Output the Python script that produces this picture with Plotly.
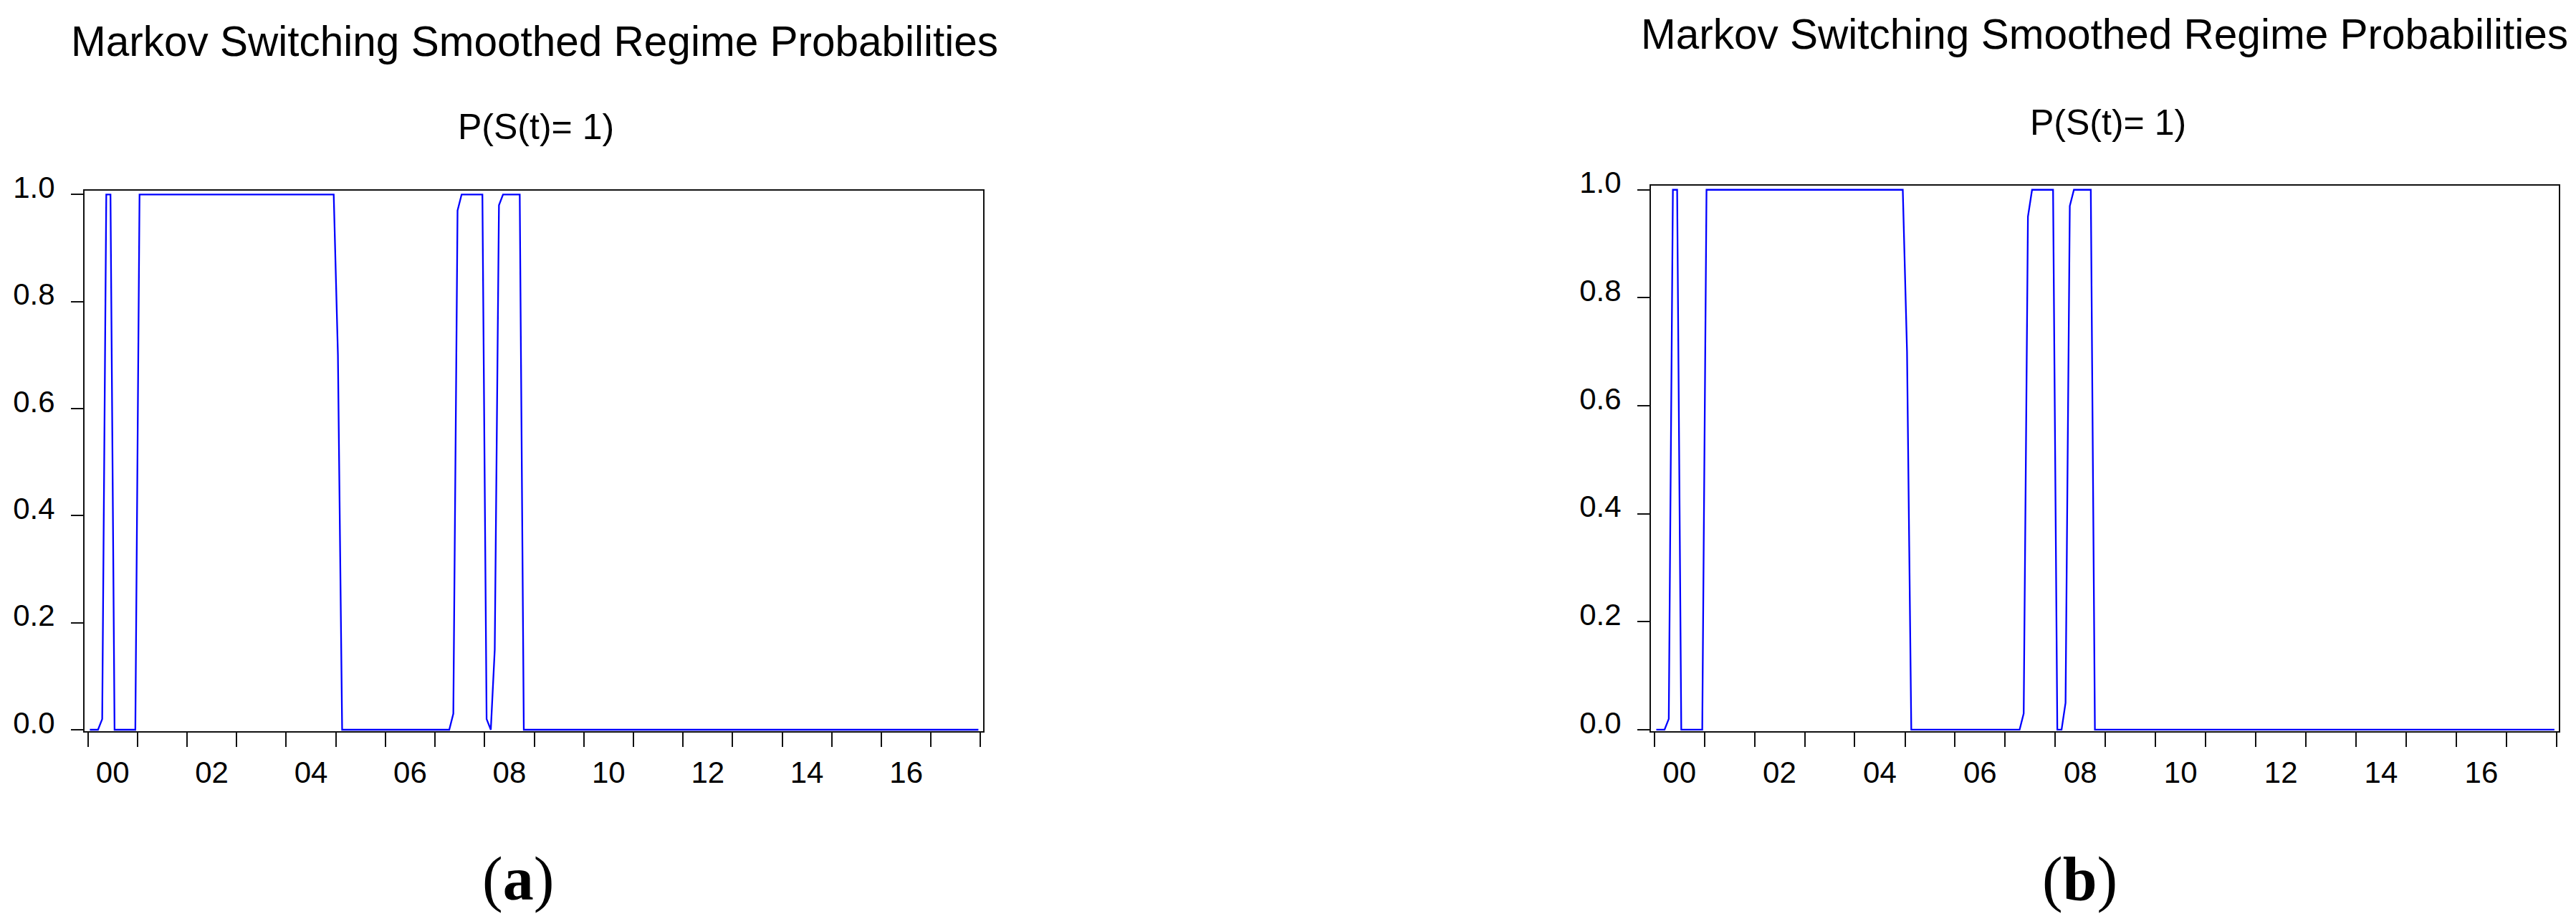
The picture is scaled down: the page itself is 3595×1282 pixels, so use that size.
import plotly.graph_objects as go
import pandas as pd

# monthly sample 2000M01-2017M12
months = pd.period_range("2000-01", "2017-12", freq="M")
dates = [p.start_time + pd.Timedelta(days=15) for p in months]

# smoothed probability P(S(t)=1), one row per year (Jan..Dec)
prob_a = [
    0, 0, 0, 0.02, 1, 1, 0, 0, 0, 0, 0, 0,          # 2000
    1, 1, 1, 1, 1, 1, 1, 1, 1, 1, 1, 1,             # 2001
    1, 1, 1, 1, 1, 1, 1, 1, 1, 1, 1, 1,             # 2002
    1, 1, 1, 1, 1, 1, 1, 1, 1, 1, 1, 1,             # 2003
    1, 1, 1, 1, 1, 1, 1, 1, 1, 1, 1, 1,             # 2004
    0.7, 0, 0, 0, 0, 0, 0, 0, 0, 0, 0, 0,           # 2005
    0, 0, 0, 0, 0, 0, 0, 0, 0, 0, 0, 0,             # 2006
    0, 0, 0, 0, 0.03, 0.97, 1, 1, 1, 1, 1, 1,       # 2007
    0.02, 0, 0.15, 0.98, 1, 1, 1, 1, 1, 0, 0, 0,    # 2008
    0, 0, 0, 0, 0, 0, 0, 0, 0, 0, 0, 0,             # 2009
    0, 0, 0, 0, 0, 0, 0, 0, 0, 0, 0, 0,             # 2010
    0, 0, 0, 0, 0, 0, 0, 0, 0, 0, 0, 0,             # 2011
    0, 0, 0, 0, 0, 0, 0, 0, 0, 0, 0, 0,             # 2012
    0, 0, 0, 0, 0, 0, 0, 0, 0, 0, 0, 0,             # 2013
    0, 0, 0, 0, 0, 0, 0, 0, 0, 0, 0, 0,             # 2014
    0, 0, 0, 0, 0, 0, 0, 0, 0, 0, 0, 0,             # 2015
    0, 0, 0, 0, 0, 0, 0, 0, 0, 0, 0, 0,             # 2016
    0, 0, 0, 0, 0, 0, 0, 0, 0, 0, 0, 0,             # 2017
]

prob_b = [
    0, 0, 0, 0.02, 1, 1, 0, 0, 0, 0, 0, 0,          # 2000
    1, 1, 1, 1, 1, 1, 1, 1, 1, 1, 1, 1,             # 2001
    1, 1, 1, 1, 1, 1, 1, 1, 1, 1, 1, 1,             # 2002
    1, 1, 1, 1, 1, 1, 1, 1, 1, 1, 1, 1,             # 2003
    1, 1, 1, 1, 1, 1, 1, 1, 1, 1, 1, 1,             # 2004
    0.7, 0, 0, 0, 0, 0, 0, 0, 0, 0, 0, 0,           # 2005
    0, 0, 0, 0, 0, 0, 0, 0, 0, 0, 0, 0,             # 2006
    0, 0, 0, 0, 0.03, 0.95, 1, 1, 1, 1, 1, 1,       # 2007
    0, 0, 0.05, 0.97, 1, 1, 1, 1, 1, 0, 0, 0,       # 2008
    0, 0, 0, 0, 0, 0, 0, 0, 0, 0, 0, 0,             # 2009
    0, 0, 0, 0, 0, 0, 0, 0, 0, 0, 0, 0,             # 2010
    0, 0, 0, 0, 0, 0, 0, 0, 0, 0, 0, 0,             # 2011
    0, 0, 0, 0, 0, 0, 0, 0, 0, 0, 0, 0,             # 2012
    0, 0, 0, 0, 0, 0, 0, 0, 0, 0, 0, 0,             # 2013
    0, 0, 0, 0, 0, 0, 0, 0, 0, 0, 0, 0,             # 2014
    0, 0, 0, 0, 0, 0, 0, 0, 0, 0, 0, 0,             # 2015
    0, 0, 0, 0, 0, 0, 0, 0, 0, 0, 0, 0,             # 2016
    0, 0, 0, 0, 0, 0, 0, 0, 0, 0, 0, 0,             # 2017
]

# year labels, shown in the middle of every second year
label_years = [2000, 2002, 2004, 2006, 2008, 2010, 2012, 2014, 2016]
label_text = ["00", "02", "04", "06", "08", "10", "12", "14", "16"]
y_ticks = [0.0, 0.2, 0.4, 0.6, 0.8, 1.0]

title = "Markov Switching Smoothed Regime Probabilities"
subtitle = "P(S(t)= 1)"

W, H = 3595, 1282
FONT = "Arial, Liberation Sans, sans-serif"
SERIF = "Liberation Serif, Times New Roman, serif"
LINE = "#111111"

fig = go.Figure()
fig.add_trace(go.Scatter(x=dates, y=prob_a, mode="lines",
                         line=dict(color="#0000ff", width=2.3),
                         xaxis="x", yaxis="y", showlegend=False))
fig.add_trace(go.Scatter(x=dates, y=prob_b, mode="lines",
                         line=dict(color="#0000ff", width=2.3),
                         xaxis="x2", yaxis="y2", showlegend=False))


def xaxis_style(left, right):
    return dict(
        domain=[left / W, right / W],
        range=["1999-12-08", "2018-01-17"],
        type="date", automargin=False,
        showline=True, linecolor=LINE, linewidth=2, mirror=True,
        showgrid=False, zeroline=False,
        tickmode="array",
        tickvals=[f"{y}-07-02" for y in label_years],
        ticktext=label_text,
        ticks="outside", ticklen=20, tickcolor="rgba(0,0,0,0)",
        tickfont=dict(family=FONT, size=42, color="black"),
        minor=dict(ticks="outside", ticklen=20, tickwidth=2,
                   tickcolor=LINE, tick0="2000-01-01", dtick="M12",
                   showgrid=False),
    )


def yaxis_style(top, yrange, anchor):
    return dict(
        domain=[1 - 1012 / H, 1 - top / H],
        range=yrange,
        anchor=anchor, automargin=False,
        showline=True, linecolor=LINE, linewidth=2, mirror=True,
        showgrid=False, zeroline=False,
        tickmode="array", tickvals=y_ticks,
        ticktext=[f"{v:.1f}" for v in y_ticks],
        ticks="outside", ticklen=17, tickwidth=2, tickcolor=LINE,
        ticklabelshift=-10, ticklabelstandoff=14,
        tickfont=dict(family=FONT, size=42, color="black"),
    )


fig.update_layout(
    width=W, height=H,
    margin=dict(l=0, r=0, t=0, b=0),
    paper_bgcolor="white", plot_bgcolor="white",
    xaxis=dict(xaxis_style(110, 1363.5), anchor="y"),
    yaxis=yaxis_style(258.3, [-0.0027, 1.0067], "x"),
    xaxis2=dict(xaxis_style(2296, 3563), anchor="y2"),
    yaxis2=yaxis_style(250.7, [-0.0027, 1.008], "x2"),
)

# panel titles and captions
texts = [
    (737.8, 49, title, 58.5, FONT),
    (740, 169.5, subtitle, 50, FONT),
    (2929, 39.7, title, 58.5, FONT),
    (2934, 162.8, subtitle, 50, FONT),
    (714.5, 1218, "(<b>a</b>)", 86, SERIF),
    (2894, 1218, "(<b>b</b>)", 86, SERIF),
]
for x, y, txt, size, fam in texts:
    fig.add_annotation(x=x / W, y=1 - y / H, xref="paper", yref="paper",
                       text=txt, showarrow=False, xanchor="center",
                       yanchor="middle",
                       font=dict(family=fam, size=size, color="black"))

fig.write_html("out.html")
